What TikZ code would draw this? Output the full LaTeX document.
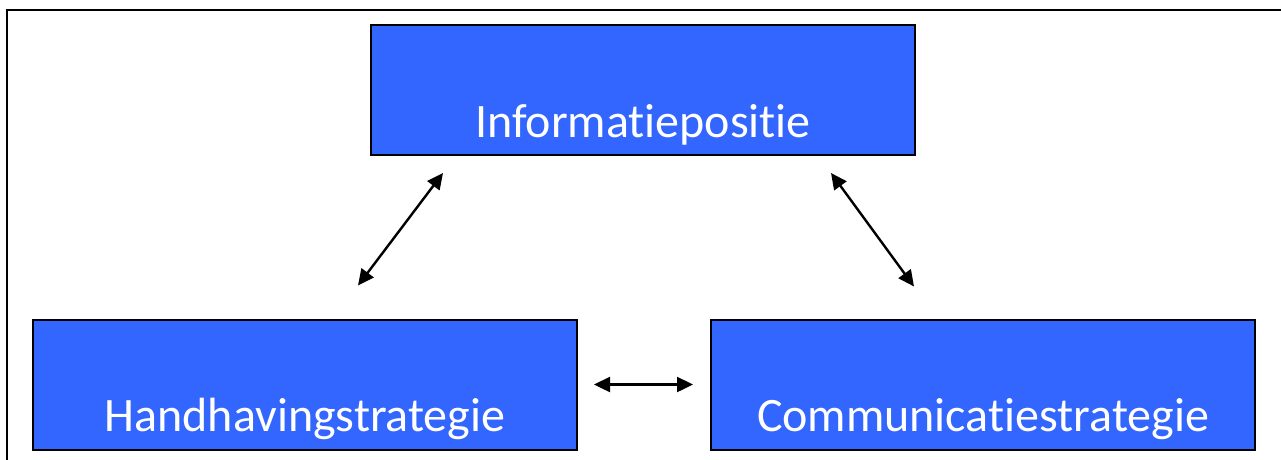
\documentclass[tikz,border=0pt]{standalone}
\usepackage{fontspec}
\setmainfont{Carlito}[Ligatures={NoCommon,NoRequired,NoContextual}]
\usetikzlibrary{arrows.meta,calc}
\definecolor{boxblue}{HTML}{3366FF}
\tikzset{
  block/.style={draw=black, line width=2pt, fill=boxblue, text=white,
    minimum width=544pt, minimum height=130pt, inner sep=0pt,
    text height=94pt, text depth=0pt,
    font=\fontsize{48}{58}\selectfont},
  link/.style={line width=2.4pt, {Triangle[length=16pt,width=15pt]}-{Triangle[length=16pt,width=15pt]}},
  frame/.style={line width=2.5pt, line cap=rect}
}
\begin{document}
\begin{tikzpicture}[x=1pt,y=-1pt]
  \useasboundingbox (0,0) rectangle (1281,459);
  % open frame along left and top edges
  \draw[frame] (7,470) -- (7,10) -- (1290,10);
  % the three blocks
  \node[block] (info) at (643,90) {Informatiepositie};
  \node[block] (hand) at (305,384.5) {Handhavingstrategie};
  \node[block] (comm) at (983,384.5) {Communicatiestrategie};
  % arrow end points
  \coordinate (ihA) at ($(info.south west)+(73,17)$);
  \coordinate (ihB) at ($(hand.north)+(53,-33)$);
  \coordinate (icA) at ($(info.south east)+(-85,17)$);
  \coordinate (icB) at ($(comm.north west)+(204,-32)$);
  \coordinate (hcA) at ($(hand.east)+(16,0)$);
  \coordinate (hcB) at ($(comm.west)+(-17,0)$);
  % two-headed links
  \draw[link] (ihB) -- (ihA);
  \draw[link] (icA) -- (icB);
  \draw[link] (hcA) -- (hcB);
\end{tikzpicture}
\end{document}
